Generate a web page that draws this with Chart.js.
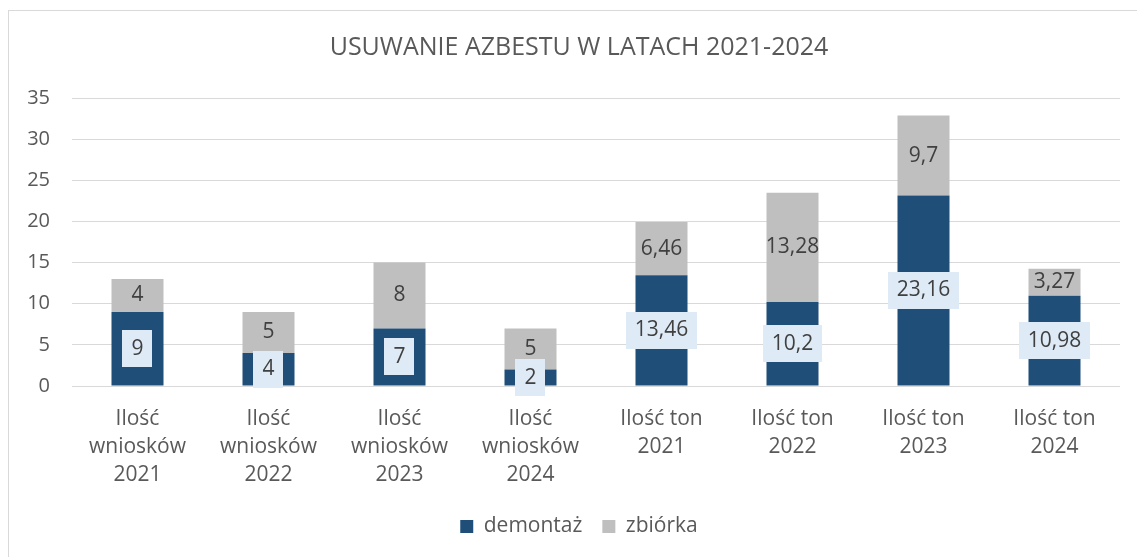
<!DOCTYPE html>
<html>
<head>
<meta charset="utf-8">
<script src="https://cdn.jsdelivr.net/npm/chart.js@4"></script>
<style>
html,body{margin:0;padding:0;background:#fff;overflow:hidden;}
#wrap{position:relative;width:1137px;height:557px;overflow:hidden;}
#frame{position:absolute;left:8px;top:10px;width:1200px;height:600px;border:1px solid #D9D9D9;box-sizing:border-box;}
canvas{position:absolute;left:0;top:0;}
</style>
</head>
<body>
<div id="wrap">
<div id="frame"></div>
<canvas id="c" width="1150" height="557"></canvas>
</div>
<script>
const categories = [
  ["Ilość","wniosków","2021"],
  ["Ilość","wniosków","2022"],
  ["Ilość","wniosków","2023"],
  ["Ilość","wniosków","2024"],
  ["Ilość ton","2021"],
  ["Ilość ton","2022"],
  ["Ilość ton","2023"],
  ["Ilość ton","2024"]
];
const demontaz = [9, 4, 7, 2, 13.46, 10.2, 23.16, 10.98];
const zbiorka = [4, 5, 8, 5, 6.46, 13.28, 9.7, 3.27];
const seriesNames = ["demontaż", "zbiórka"];
const titleText = "USUWANIE AZBESTU W LATACH 2021-2024";
const yTicks = [0, 5, 10, 15, 20, 25, 30, 35];

const FONT = "'Open Sans', Lato, sans-serif";
const fmt = v => String(v).replace('.', ',');

const labelPlugin = {
  id: 'valueLabels',
  afterDatasetsDraw(chart) {
    const ctx = chart.ctx;
    ctx.save();
    ctx.font = "21px " + FONT;
    ctx.textAlign = 'center';
    ctx.textBaseline = 'middle';
    chart.data.datasets.forEach((ds, di) => {
      const meta = chart.getDatasetMeta(di);
      meta.data.forEach((el, i) => {
        const p = el.getProps(['x', 'y', 'base'], true);
        const cy = (p.y + p.base) / 2;
        const txt = fmt(ds.data[i]);
        if (di === 0) {
          const w = ctx.measureText(txt).width + 18;
          const h = 37;
          ctx.fillStyle = '#DEEBF7';
          ctx.fillRect(Math.round(p.x - w / 2), Math.round(cy - h / 2), Math.round(w), h);
        }
        ctx.fillStyle = '#404040';
        ctx.fillText(txt, p.x, cy);
      });
    });
    ctx.restore();
  }
};

new Chart(document.getElementById('c'), {
  type: 'bar',
  data: {
    labels: categories,
    datasets: [
      { label: seriesNames[0], data: demontaz, backgroundColor: '#1F4E79', borderWidth: 0 },
      { label: seriesNames[1], data: zbiorka, backgroundColor: '#BFBFBF', borderWidth: 0 }
    ]
  },
  options: {
    responsive: false,
    animation: false,
    events: [],
    layout: { padding: { left: 8, right: 0, top: 0, bottom: 10 } },
    datasets: { bar: { categoryPercentage: 1, barPercentage: 0.397 } },
    plugins: {
      title: {
        display: true,
        text: titleText,
        color: '#595959',
        font: { family: FONT, size: 25, weight: 'normal', lineHeight: 1.2 },
        padding: { top: 33, bottom: 35 }
      },
      legend: {
        position: 'bottom',
        labels: {
          color: '#595959',
          font: { family: FONT, size: 21 },
          boxWidth: 13,
          boxHeight: 13,
          padding: 20
        }
      },
      tooltip: { enabled: false }
    },
    scales: {
      x: {
        stacked: true,
        grid: { display: false, drawTicks: false },
        border: { display: false },
        ticks: {
          color: '#595959',
          font: { family: FONT, size: 21, lineHeight: 1.33 },
          padding: 19,
          maxRotation: 0,
          autoSkip: false
        },
        afterFit: s => { s.height = 110; }
      },
      y: {
        stacked: true,
        min: 0,
        max: 35,
        grid: { color: '#D9D9D9', lineWidth: 1, drawTicks: false },
        border: { display: false },
        afterBuildTicks: s => { s.ticks = yTicks.map(v => ({ value: v })); },
        ticks: {
          color: '#595959',
          font: { family: FONT, size: 20 },
          padding: 22
        },
        afterFit: s => { s.width = 64; }
      },
      yRight: {
        position: 'right',
        display: true,
        min: 0,
        max: 35,
        grid: { display: false, drawTicks: false },
        border: { display: false },
        ticks: { display: false },
        afterFit: s => { s.width = 30; }
      }
    }
  },
  plugins: [labelPlugin]
});
</script>
</body>
</html>
